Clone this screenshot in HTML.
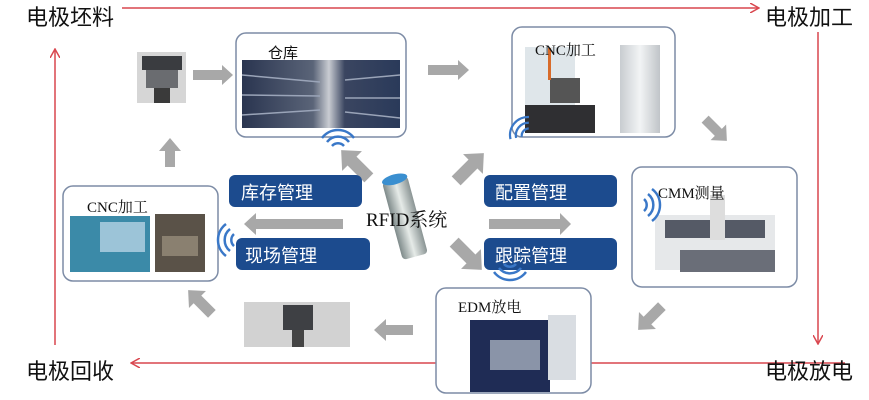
<!DOCTYPE html>
<html><head><meta charset="utf-8"><style>
html,body{margin:0;padding:0;background:#fff;}
svg{display:block}
text{font-family:"Liberation Sans","Noto Sans CJK SC",sans-serif;}
.serif{font-family:"Liberation Serif","Noto Serif CJK SC",serif;}
</style></head><body>
<svg width="869" height="400" viewBox="0 0 869 400" xmlns="http://www.w3.org/2000/svg">
<defs>
<marker id="ra" markerWidth="10" markerHeight="10" refX="8" refY="5" orient="auto" markerUnits="userSpaceOnUse"><path d="M0,0 L9,5 L0,10" fill="none" stroke="#d9474f" stroke-width="1.5"/></marker>
<linearGradient id="shelf" x1="0" x2="1"><stop offset="0" stop-color="#2a3550"/><stop offset="0.45" stop-color="#5a6478"/><stop offset="0.55" stop-color="#c9ccd2"/><stop offset="0.65" stop-color="#3a4560"/><stop offset="1" stop-color="#2a3a5a"/></linearGradient>
<linearGradient id="metal" x1="0" x2="1"><stop offset="0" stop-color="#7e8a8a"/><stop offset="0.5" stop-color="#e6ebe8"/><stop offset="1" stop-color="#8a9494"/></linearGradient>
<linearGradient id="cab" x1="0" x2="1"><stop offset="0" stop-color="#c8ccd0"/><stop offset="0.5" stop-color="#f2f4f5"/><stop offset="1" stop-color="#c0c4c8"/></linearGradient>
<g id="wave" fill="none" stroke="#3a78c8" stroke-width="2.5"><path d="M-6,-4 A8,8 0 0 1 6,-4"/><path d="M-11,-8 A14,14 0 0 1 11,-8"/><path d="M-16,-12 A20,20 0 0 1 16,-12"/></g>
<polygon id="ga" points="-14,-4.5 3,-4.5 3,-10 14,0 3,10 3,4.5 -14,4.5"/>
</defs>

<g stroke="#d9474f" stroke-width="1.5" fill="none">
<line x1="122" y1="8" x2="758" y2="8" marker-end="url(#ra)"/>
<line x1="818" y1="32" x2="818" y2="343" marker-end="url(#ra)"/>
<line x1="845" y1="363" x2="132" y2="363" marker-end="url(#ra)"/>
<line x1="55" y1="345" x2="55" y2="50" marker-end="url(#ra)"/>
</g>
<g font-size="22" fill="#111">
<text x="26" y="25">电极坯料</text>
<text x="765" y="25">电极加工</text>
<text x="765" y="379">电极放电</text>
<text x="26" y="379">电极回收</text>
</g>

<g fill="#fff" stroke="#7d8ca6" stroke-width="1.5">
<rect x="236" y="33" width="170" height="104" rx="10"/>
<rect x="512" y="27" width="163" height="110" rx="10"/>
<rect x="632" y="167" width="165" height="120" rx="10"/>
<rect x="436" y="288" width="155" height="105" rx="10"/>
<rect x="63" y="186" width="155" height="95" rx="10"/>
</g>

<rect x="242" y="60" width="158" height="68" fill="url(#shelf)"/>
<g stroke="#9aa4b8" stroke-width="1.5"><line x1="242" y1="75" x2="320" y2="82"/><line x1="242" y1="95" x2="320" y2="96"/><line x1="242" y1="115" x2="320" y2="110"/><line x1="345" y1="80" x2="400" y2="75"/><line x1="345" y1="98" x2="400" y2="98"/><line x1="345" y1="112" x2="400" y2="118"/></g>
<text x="268" y="58" font-size="15" fill="#111">仓库</text>

<rect x="525" y="47" width="50" height="60" fill="#dfe6ea"/>
<rect x="525" y="105" width="70" height="28" fill="#2f2f32"/>
<rect x="550" y="78" width="30" height="25" fill="#555" />
<rect x="620" y="45" width="40" height="88" fill="url(#cab)"/>
<rect x="548" y="48" width="3" height="32" fill="#d86b2a"/>
<text x="535" y="55" font-size="15" class="serif" fill="#111">CNC加工</text>

<rect x="655" y="215" width="120" height="55" fill="#e6e8ea"/>
<rect x="665" y="220" width="100" height="18" fill="#555a66"/>
<rect x="680" y="250" width="95" height="22" fill="#6a6e78"/>
<rect x="710" y="195" width="15" height="45" fill="#ddd"/>
<text x="658" y="198" font-size="15" class="serif" fill="#111">CMM测量</text>

<rect x="470" y="320" width="80" height="72" fill="#1f2c55"/>
<rect x="490" y="340" width="50" height="30" fill="#8a94a8"/>
<rect x="548" y="315" width="28" height="65" fill="#d9dde2"/>
<text x="458" y="312" font-size="15" class="serif" fill="#111">EDM放电</text>

<rect x="70" y="216" width="80" height="56" fill="#3b8aa8"/>
<rect x="100" y="222" width="45" height="30" fill="#9cc4d8"/>
<rect x="155" y="214" width="50" height="58" fill="#5a5248"/>
<rect x="162" y="236" width="36" height="20" fill="#8a8070"/>
<text x="87" y="212" font-size="15" class="serif" fill="#111">CNC加工</text>

<rect x="137" y="52" width="49" height="51" fill="#d6d6d6"/>
<rect x="142" y="56" width="40" height="14" fill="#3a3c40"/>
<rect x="146" y="70" width="32" height="18" fill="#6a6c70"/>
<rect x="154" y="88" width="16" height="15" fill="#3a3a3a"/>
<rect x="244" y="302" width="106" height="45" fill="#d2d2d2"/>
<rect x="283" y="305" width="30" height="25" fill="#3e4044"/>
<rect x="292" y="330" width="12" height="17" fill="#444"/>

<g fill="#a8a8a8">
<polygon points="193,70 222,70 222,65 233,75 222,85 222,80 193,80"/>
<polygon points="428,65 458,65 458,60 469,70 458,80 458,75 428,75"/>
<polygon points="343,219 256,219 256,213 244,224 256,235 256,229 343,229"/>
<polygon points="489,219 560,219 560,213 571,224 560,235 560,229 489,229"/>
<polygon points="413,325 386,325 386,319 374,330 386,341 386,335 413,335"/>
<polygon points="165,167 165,151 159,151 170,138 181,151 175,151 175,167"/>
<use href="#ga" transform="translate(716,130) rotate(45) scale(1.1)"/>
<use href="#ga" transform="translate(650,318) rotate(135) scale(1.2)"/>
<use href="#ga" transform="translate(200,302) rotate(-135) scale(1.2)"/>
<use href="#ga" transform="translate(355,164) rotate(-135) scale(1.4)"/>
<use href="#ga" transform="translate(470,167) rotate(-45) scale(1.4)"/>
<use href="#ga" transform="translate(468,256) rotate(45) scale(1.4)"/>
</g>

<g fill="#1c4b8e">
<rect x="229" y="175" width="133" height="32" rx="6"/>
<rect x="236" y="238" width="134" height="32" rx="6"/>
<rect x="484" y="175" width="133" height="32" rx="6"/>
<rect x="484" y="238" width="133" height="32" rx="6"/>
</g>
<g font-size="18" fill="#fff">
<text x="241" y="199">库存管理</text>
<text x="245" y="262">现场管理</text>
<text x="495" y="199">配置管理</text>
<text x="495" y="262">跟踪管理</text>
</g>

<g transform="translate(405,218) rotate(-15)">
<rect x="-13" y="-40" width="26" height="80" rx="4" fill="url(#metal)"/>
<ellipse cx="0" cy="-40" rx="13" ry="5" fill="#3a8fd0"/>
</g>
<text x="366" y="226" font-size="19" class="serif" fill="#111">RFID系统</text>

<use href="#wave" transform="translate(338,150)"/>
<use href="#wave" transform="translate(528,135) rotate(-50) scale(0.9)"/>
<use href="#wave" transform="translate(640,205) rotate(90)"/>
<use href="#wave" transform="translate(238,240) rotate(-90)"/>
<use href="#wave" transform="translate(510,260) rotate(180)"/>
</svg>
</body></html>
